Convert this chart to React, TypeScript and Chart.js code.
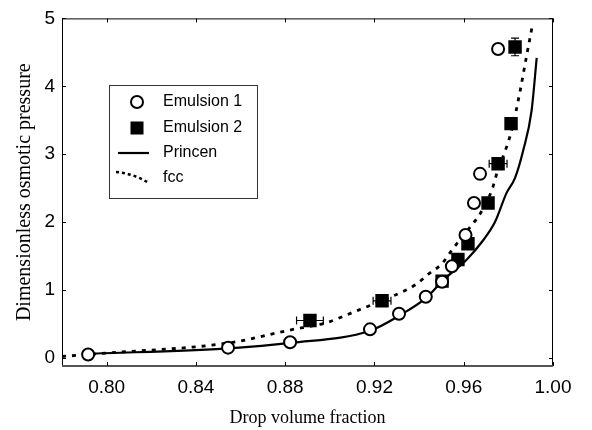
import React, { useEffect, useRef } from "react";
import { Chart, registerables } from "chart.js";

Chart.register(...registerables);

// ---- data ----
const emulsion1X = [0.7917, 0.8544, 0.8822, 0.918, 0.931, 0.943, 0.9503, 0.9547, 0.9608, 0.9646, 0.9673, 0.9754];
const emulsion1Y = [0.05, 0.15, 0.23, 0.42, 0.65, 0.9, 1.12, 1.35, 1.81, 2.28, 2.71, 4.55];

const emulsion2X = [0.8911, 0.9234, 0.9503, 0.9574, 0.9619, 0.9709, 0.9754, 0.9812, 0.983];
const emulsion2Y = [0.55, 0.84, 1.13, 1.45, 1.68, 2.28, 2.86, 3.45, 4.58];
const emulsion2XErr = [0.006, 0.004, 0, 0, 0, 0, 0.004, 0, 0];
const emulsion2YErr = [0, 0, 0, 0, 0, 0, 0, 0, 0.13];

const princenX = [0.7917, 0.8548, 0.8822, 0.918, 0.931, 0.943, 0.9507, 0.9614, 0.9682, 0.974, 0.9792, 0.983, 0.9867, 0.9904, 0.9927];
const princenY = [0.06, 0.14, 0.22, 0.4, 0.62, 0.88, 1.14, 1.45, 1.71, 2.0, 2.43, 2.65, 3.06, 3.64, 4.42];

const fccX = [0.78, 0.8, 0.8548, 0.8822, 0.8987, 0.9103, 0.921, 0.9283, 0.939, 0.944, 0.9503, 0.9552, 0.9637, 0.9673, 0.9727, 0.9754, 0.9786, 0.9817, 0.9852, 0.9879, 0.9906];
const fccY = [0.02, 0.07, 0.22, 0.41, 0.52, 0.67, 0.81, 0.91, 1.09, 1.23, 1.39, 1.61, 1.96, 2.12, 2.48, 2.78, 3.05, 3.38, 3.92, 4.4, 4.87];

const xTicks = [0.8, 0.84, 0.88, 0.92, 0.96, 1.0];
const yTicks = [0, 1, 2, 3, 4, 5];
const xRange = [0.78, 1.0];
const yRange = [-0.12, 5];

const legendLabels = ["Emulsion 1", "Emulsion 2", "Princen", "fcc"];
const xTitle = "Drop volume fraction";
const yTitle = "Dimensionless osmotic pressure";

const pts = (xs: number[], ys: number[]) => xs.map((x, i) => ({ x, y: ys[i] }));

const SANS = "'Liberation Sans', Arial, sans-serif";
const SERIF = "'Liberation Serif', 'Times New Roman', serif";

const errorBarPlugin = {
  id: "errorBars",
  beforeDatasetsDraw(chart: any) {
    const { ctx } = chart;
    const xs = chart.scales.x;
    const ys = chart.scales.y;
    ctx.save();
    ctx.strokeStyle = "#000";
    ctx.lineWidth = 1.2;
    emulsion2X.forEach((x, i) => {
      const y = emulsion2Y[i];
      const px = xs.getPixelForValue(x);
      const py = ys.getPixelForValue(y);
      const xe = emulsion2XErr[i];
      if (xe > 0) {
        const l = xs.getPixelForValue(x - xe);
        const r = xs.getPixelForValue(x + xe);
        ctx.beginPath();
        ctx.moveTo(l, py);
        ctx.lineTo(r, py);
        ctx.moveTo(l, py - 4);
        ctx.lineTo(l, py + 4);
        ctx.moveTo(r, py - 4);
        ctx.lineTo(r, py + 4);
        ctx.stroke();
      }
      const ye = emulsion2YErr[i];
      if (ye > 0) {
        const t = ys.getPixelForValue(y + ye);
        const b = ys.getPixelForValue(y - ye);
        ctx.beginPath();
        ctx.moveTo(px, t);
        ctx.lineTo(px, b);
        ctx.moveTo(px - 4, t);
        ctx.lineTo(px + 4, t);
        ctx.moveTo(px - 4, b);
        ctx.lineTo(px + 4, b);
        ctx.stroke();
      }
    });
    ctx.restore();
  },
};

const framePlugin = {
  id: "frame",
  afterDatasetsDraw(chart: any) {
    const { ctx, chartArea } = chart;
    const { left, right, top, bottom } = chartArea;
    const xs = chart.scales.x;
    const ys = chart.scales.y;
    ctx.save();
    ctx.strokeStyle = "#000";
    ctx.lineWidth = 1;
    ctx.beginPath();
    ctx.moveTo(left + 0.5, bottom);
    ctx.lineTo(left + 0.5, top + 0.5);
    ctx.lineTo(right - 0.5, top + 0.5);
    ctx.lineTo(right - 0.5, bottom);
    ctx.stroke();
    ctx.strokeStyle = "#555";
    ctx.lineWidth = 2;
    ctx.beginPath();
    ctx.moveTo(left, bottom);
    ctx.lineTo(right, bottom);
    ctx.stroke();
    ctx.strokeStyle = "#000";
    ctx.lineWidth = 1;
    const tl = 4;
    ctx.beginPath();
    xTicks.forEach((v) => {
      const px = Math.round(xs.getPixelForValue(v)) + 0.5;
      ctx.moveTo(px, bottom);
      ctx.lineTo(px, bottom - tl);
      ctx.moveTo(px, top);
      ctx.lineTo(px, top + tl);
    });
    yTicks.forEach((v) => {
      const py = Math.round(ys.getPixelForValue(v)) + 0.5;
      ctx.moveTo(left, py);
      ctx.lineTo(left + tl, py);
      ctx.moveTo(right, py);
      ctx.lineTo(right - tl, py);
    });
    ctx.stroke();
    ctx.restore();
  },
};

const legendPlugin = {
  id: "customLegend",
  afterDraw(chart: any) {
    const { ctx } = chart;
    const bx = 109, by = 85, bw = 148, bh = 113;
    ctx.save();
    ctx.fillStyle = "#fff";
    ctx.fillRect(bx, by, bw, bh);
    ctx.strokeStyle = "#333";
    ctx.lineWidth = 1;
    ctx.strokeRect(bx + 0.5, by + 0.5, bw, bh);
    const rows = [102, 128, 153, 178];
    const symX = 137;
    ctx.beginPath();
    ctx.arc(symX, rows[0], 6, 0, Math.PI * 2);
    ctx.fillStyle = "#fff";
    ctx.fill();
    ctx.strokeStyle = "#000";
    ctx.lineWidth = 2;
    ctx.stroke();
    ctx.fillStyle = "#000";
    ctx.fillRect(symX - 6.5, rows[1] - 6.5, 13, 13);
    ctx.beginPath();
    ctx.moveTo(118, rows[2]);
    ctx.lineTo(149, rows[2]);
    ctx.lineWidth = 2.2;
    ctx.stroke();
    ctx.beginPath();
    ctx.setLineDash([3, 3]);
    ctx.lineWidth = 2.5;
    ctx.moveTo(116, rows[3] - 6);
    ctx.quadraticCurveTo(132, rows[3] - 5, 149, rows[3] + 5);
    ctx.stroke();
    ctx.setLineDash([]);
    ctx.fillStyle = "#000";
    ctx.font = "16px " + SANS;
    ctx.textBaseline = "middle";
    ctx.textAlign = "left";
    legendLabels.forEach((t, i) => ctx.fillText(t, 163, rows[i]));
    ctx.restore();
  },
};

export default function App() {
  const ref = useRef<HTMLCanvasElement | null>(null);
  useEffect(() => {
    if (!ref.current) return;
    const chart = new Chart(ref.current, {
      type: "scatter",
      data: {
        datasets: [
          {
            label: legendLabels[0],
            data: pts(emulsion1X, emulsion1Y),
            pointStyle: "circle",
            pointRadius: 6,
            backgroundColor: "#fff",
            borderColor: "#000",
            borderWidth: 2,
            showLine: false,
          },
          {
            label: legendLabels[1],
            data: pts(emulsion2X, emulsion2Y),
            pointStyle: "rect",
            pointRadius: 9.5,
            backgroundColor: "#000",
            borderColor: "#000",
            borderWidth: 0,
            showLine: false,
          },
          {
            label: legendLabels[2],
            data: pts(princenX, princenY),
            showLine: true,
            pointRadius: 0,
            borderColor: "#000",
            borderWidth: 2.2,
            cubicInterpolationMode: "monotone",
          } as any,
          {
            label: legendLabels[3],
            data: pts(fccX, fccY),
            showLine: true,
            pointRadius: 0,
            borderColor: "#000",
            borderWidth: 2.8,
            borderDash: [4, 6],
            cubicInterpolationMode: "monotone",
          } as any,
        ],
      },
      options: {
        animation: false,
        responsive: false,
        layout: { padding: { top: 13, right: 39, left: 0, bottom: 0 } },
        plugins: { legend: { display: false }, tooltip: { enabled: false } },
        scales: {
          x: {
            type: "linear",
            position: "bottom",
            min: xRange[0],
            max: xRange[1],
            grid: { display: false, drawTicks: false },
            border: { display: false },
            afterBuildTicks: (s: any) => {
              s.ticks = xTicks.map((v) => ({ value: v }));
            },
            afterFit: (s: any) => {
              s.height = 64;
            },
            ticks: {
              color: "#000",
              font: { family: SANS, size: 19 },
              padding: 10,
              maxRotation: 0,
              autoSkip: false,
              callback: (v: any) => Number(v).toFixed(2),
            },
            title: {
              display: true,
              text: xTitle,
              color: "#000",
              font: { family: SERIF, size: 18 },
              padding: { top: 0, bottom: 1 },
            },
          },
          y: {
            type: "linear",
            min: yRange[0],
            max: yRange[1],
            grid: { display: false, drawTicks: false },
            border: { display: false },
            afterBuildTicks: (s: any) => {
              s.ticks = yTicks.map((v) => ({ value: v }));
            },
            afterFit: (s: any) => {
              s.width = 62;
            },
            ticks: {
              color: "#000",
              font: { family: SANS, size: 19 },
              padding: 7,
              callback: (v: any) => String(Math.round(Number(v))),
            },
            title: {
              display: true,
              text: yTitle,
              color: "#000",
              font: { family: SERIF, size: 20 },
              padding: { top: 13, bottom: 0 },
            },
          },
        },
      },
      plugins: [errorBarPlugin, framePlugin, legendPlugin],
    } as any);
    return () => chart.destroy();
  }, []);
  return (
    <div style={{ position: "absolute", left: 0, top: 0, width: 592, height: 430, background: "#fff" }}>
      <canvas ref={ref} width={592} height={430} style={{ display: "block" }} />
    </div>
  );
}
